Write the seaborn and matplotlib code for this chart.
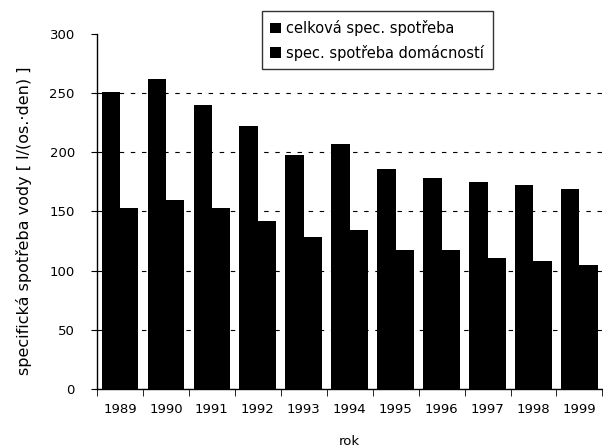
import pandas as pd
import matplotlib.pyplot as plt
import seaborn as sns

roky = [1989, 1990, 1991, 1992, 1993, 1994, 1995, 1996, 1997, 1998, 1999]
celkova = [251, 262, 240, 222, 198, 207, 186, 178, 175, 172, 169]
domacnosti = [153, 160, 153, 142, 128, 134, 117, 117, 111, 108, 105]

serie = ['celková spec. spotřeba', 'spec. spotřeba domácností']

df = pd.DataFrame({
    'rok': roky * 2,
    'hodnota': celkova + domacnosti,
    'serie': [serie[0]] * len(roky) + [serie[1]] * len(roky),
})

sns.set_style("white")
plt.rcParams['font.family'] = ['DejaVu Sans']
plt.rcParams['text.color'] = 'black'
plt.rcParams['axes.labelcolor'] = 'black'

fig = plt.figure(figsize=(6.03, 4.48), dpi=100)
ax = fig.add_axes([0.161, 0.132, 0.838, 0.792])

sns.barplot(data=df, x='rok', y='hodnota', hue='serie', palette=['black', 'black'],
            width=0.8, edgecolor='black', linewidth=0, ax=ax, zorder=3)

ax.set_ylim(0, 300)
ax.set_yticks(range(0, 301, 50))
ax.yaxis.grid(True, linestyle=(0, (4, 6)), color='black', linewidth=0.8, zorder=0)
ax.get_ygridlines()[-1].set_visible(False)
ax.xaxis.grid(False)
ax.set_xlim(-0.5, len(roky) - 0.5)

for s in ['top', 'right']:
    ax.spines[s].set_visible(False)
for s in ['left', 'bottom']:
    ax.spines[s].set_color('black')
    ax.spines[s].set_linewidth(1)

ax.tick_params(axis='both', labelsize=9.5, colors='black', length=4, direction='out')
ax.tick_params(axis='x', bottom=False, pad=6)
ax.set_xticks([i + 0.5 for i in range(-1, len(roky))], minor=True)
ax.tick_params(axis='x', which='minor', bottom=True, length=5, color='black')
ax.tick_params(axis='y', left=True, length=4, color='black', pad=12)

ax.set_xlabel('rok', fontsize=9.5, labelpad=14)
ax.set_ylabel('specifická spotřeba vody [ l/(os.·den) ]', fontsize=11.5)
ax.yaxis.set_label_coords(-0.128, 0.475)

leg = ax.legend(loc='upper left', bbox_to_anchor=(0.434, 0.975), bbox_transform=fig.transFigure,
                fontsize=10.5, frameon=True, fancybox=False, handlelength=0.7, handleheight=0.7,
                handletextpad=0.4, borderpad=0.6, labelspacing=0.6, borderaxespad=0)
leg.get_frame().set_edgecolor('black')
leg.get_frame().set_linewidth(1)
for t in leg.get_texts():
    t.set_color('black')

plt.savefig('out.png', dpi=100)
